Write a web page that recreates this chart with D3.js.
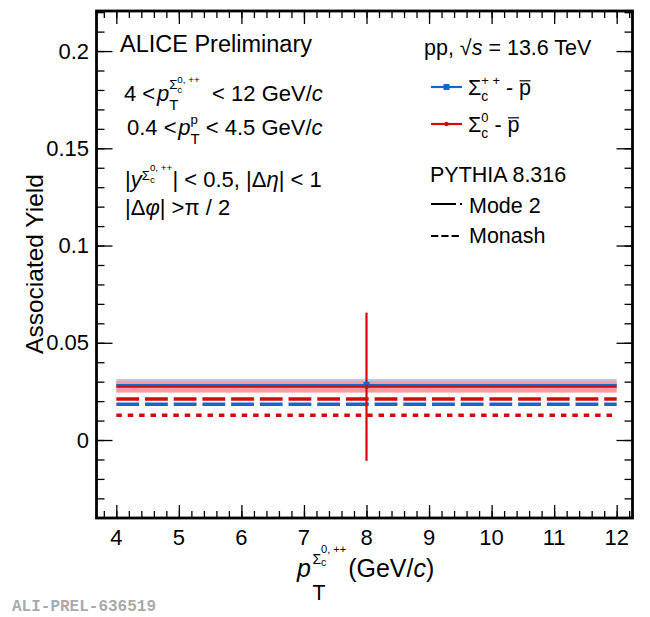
<!DOCTYPE html>
<html><head><meta charset="utf-8">
<script src="https://cdn.jsdelivr.net/npm/d3@7"></script>
<style>
body{margin:0;background:#fff}
text{font-family:"Liberation Sans",Arial,Helvetica,sans-serif;white-space:pre;fill:#000}
</style>
</head><body><svg id="c" width="650" height="617"></svg>
<script>
// ---- data ----
const binLow = [4], binHigh = [12], binCenter = [8];
const sigPPval = [0.0283], sigPPsys = [0.0031];           // Sigma_c^{++} - pbar
const sig0val = [0.0274], sig0stat = [0.0381], sig0sys = [0.0030]; // Sigma_c^0 - pbar
const monashRed = [0.0211], monashBlue = [0.0184];        // PYTHIA Monash
const mode2Red = [0.0127];                                // PYTHIA Mode 2
const xTicks = [4,5,6,7,8,9,10,11,12];
const xTickLabels = ["4","5","6","7","8","9","10","11","12"];
const yTicks = [0,0.05,0.1,0.15,0.2];
const yTickLabels = ["0","0.05","0.1","0.15","0.2"];

const BLUE = "#1468cc", BLUE_BAND = "#aecdf2", RED = "#d10a0a", RED_BAND = "#ff9a9a";

const svg = d3.select("#c");
const L = 96.5, R = 632.5, T = 11, B = 518;
const x = d3.scaleLinear().domain([3.683, 12.253]).range([L, R]);
const y = d3.scaleLinear().domain([-0.0401, 0.2206]).range([B, T]);

// ---- rich text helper ----
function rich(parent, x0, y0, size, segs, anchor) {
  const g = parent.append("g");
  let cur = x0, prevStart = x0, prevEnd = x0;
  segs.forEach(s => {
    const fs = size * (s.f || 1);
    let sx = s.back ? prevStart : (s.next ? prevEnd : cur);
    sx += (s.dx || 0) * size;
    const by = y0 - (s.dy || 0) * size;
    const t = g.append("text").attr("x", sx).attr("y", by)
      .attr("font-size", fs).text(s.t);
    if (s.i) t.attr("font-style", "italic");
    const w = t.node().getComputedTextLength();
    if (s.ol) {
      g.append("line").attr("x1", sx + 0.5).attr("x2", sx + w - 0.5)
        .attr("y1", by - fs * 0.66).attr("y2", by - fs * 0.66)
        .attr("stroke", "#000").attr("stroke-width", 1.2);
    }
    prevStart = sx; prevEnd = sx + w;
    cur = Math.max(cur, sx + w);
  });
  if (anchor === "middle") g.attr("transform", `translate(${-(cur - x0) / 2},0)`);
  return g;
}

// ---- data marks ----
const plot = svg.append("g");
const idx = d3.range(binCenter.length);
// systematic bands
plot.selectAll(".bb").data(idx).join("rect")
  .attr("x", i => x(binLow[i])).attr("width", i => x(binHigh[i]) - x(binLow[i]))
  .attr("y", i => y(sigPPval[i] + sigPPsys[i])).attr("height", i => y(sigPPval[i] - sigPPsys[i]) - y(sigPPval[i] + sigPPsys[i]))
  .attr("fill", BLUE_BAND);
plot.selectAll(".rb").data(idx).join("rect")
  .attr("x", i => x(binLow[i])).attr("width", i => x(binHigh[i]) - x(binLow[i]))
  .attr("y", i => y(sig0val[i] + sig0sys[i])).attr("height", i => y(sig0val[i] - sig0sys[i]) - y(sig0val[i] + sig0sys[i]))
  .attr("fill", RED_BAND);
// model lines
function hline(vals, color, w, dash) {
  plot.selectAll(null).data(idx).join("line")
    .attr("x1", i => x(binLow[i])).attr("x2", i => x(binHigh[i]))
    .attr("y1", i => y(vals[i])).attr("y2", i => y(vals[i]))
    .attr("stroke", color).attr("stroke-width", w).attr("stroke-dasharray", dash || null);
}
hline(monashRed, RED, 3.4, "22.8,5.9");
hline(monashBlue, BLUE, 3.4, "22.8,5.9");
hline(mode2Red, RED, 3.6, "5.5,5.9");
// data x-error (bin width) lines
hline(sigPPval, BLUE, 2.2);
hline(sig0val, RED, 2.2);
// stat error red
plot.selectAll(".re").data(idx).join("line")
  .attr("x1", i => x(binCenter[i])).attr("x2", i => x(binCenter[i]))
  .attr("y1", i => y(sig0val[i] + sig0stat[i])).attr("y2", i => y(sig0val[i] - sig0stat[i]))
  .attr("stroke", RED).attr("stroke-width", 2.2);
// markers
plot.selectAll(".bm").data(idx).join("rect")
  .attr("x", i => x(binCenter[i]) - 3).attr("y", i => y(sigPPval[i]) - 3)
  .attr("width", 6).attr("height", 6).attr("fill", BLUE);
plot.selectAll(".rm").data(idx).join("circle")
  .attr("cx", i => x(binCenter[i])).attr("cy", i => y(sig0val[i])).attr("r", 2.2).attr("fill", RED);

// ---- axes ----
const xMinor = d3.range(38, 123, 2).map(v => v / 10).filter(v => v >= 3.7 && v <= 12.25);
const yMinor = d3.range(-4, 23, 1).map(v => v / 100).filter(v => v >= -0.04 && v <= 0.22);
function tickAxis(axisFn, scale, vals, size, tr) {
  const g = svg.append("g").attr("transform", tr)
    .call(axisFn(scale).tickValues(vals).tickSize(size).tickFormat(""));
  g.select(".domain").remove();
  g.selectAll("line").attr("stroke", "#000").attr("stroke-width", 1.3);
}
tickAxis(d3.axisBottom, x, xTicks, -13, `translate(0,${B})`);
tickAxis(d3.axisBottom, x, xMinor, -7, `translate(0,${B})`);
tickAxis(d3.axisTop, x, xTicks, -13, `translate(0,${T})`);
tickAxis(d3.axisTop, x, xMinor, -7, `translate(0,${T})`);
tickAxis(d3.axisLeft, y, yTicks, -16, `translate(${L},0)`);
tickAxis(d3.axisLeft, y, yMinor, -8, `translate(${L},0)`);
tickAxis(d3.axisRight, y, yTicks, -16, `translate(${R},0)`);
tickAxis(d3.axisRight, y, yMinor, -8, `translate(${R},0)`);

svg.append("rect").attr("x", L).attr("y", T).attr("width", R - L).attr("height", B - T)
  .attr("fill", "none").attr("stroke", "#000").attr("stroke-width", 2.8);

// tick labels
svg.selectAll(".xl").data(xTicks).join("text")
  .attr("x", d => x(d)).attr("y", 545).attr("text-anchor", "middle").attr("font-size", 22)
  .text((d, i) => xTickLabels[i]);
svg.selectAll(".yl").data(yTicks).join("text")
  .attr("x", 89).attr("y", d => y(d) + 7.5).attr("text-anchor", "end").attr("font-size", 22)
  .text((d, i) => yTickLabels[i]);

// axis titles
svg.append("text").attr("transform", "translate(43,264) rotate(-90)")
  .attr("text-anchor", "middle").attr("font-size", 24.5).text("Associated Yield");
rich(svg, 297, 577, 25, [
  {t: "p", i: 1},
  {t: "T", f: .85, dy: -.92, next: 1, dx: .06},
  {t: "Σ", f: .56, dy: .52, back: 1},
  {t: "c", f: .42, dy: .44, next: 1},
  {t: "0, ++", f: .44, dy: .96, back: 1},
  {t: "(GeV/", dx: .08},
  {t: "c", i: 1},
  {t: ")"}
]);

// ---- annotations ----
svg.append("text").attr("x", 120).attr("y", 52).attr("font-size", 23.5).text("ALICE Preliminary");
rich(svg, 124, 101, 22, [
  {t: "4 <"},
  {t: "p", i: 1, dx: .08},
  {t: "T", f: .68, dy: -.4, next: 1},
  {t: "Σ", f: .6, dy: .53, back: 1},
  {t: "c", f: .45, dy: .38, next: 1},
  {t: "0, ++", f: .45, dy: .82, back: 1},
  {t: "  < 12 GeV/"},
  {t: "c", i: 1}
]);
rich(svg, 127, 135, 22, [
  {t: "0.4 <"},
  {t: "p", i: 1, dx: .08},
  {t: "T", f: .68, dy: -.4, next: 1},
  {t: "p", f: .6, dy: .5, back: 1},
  {t: " < 4.5 GeV/"},
  {t: "c", i: 1}
]);
rich(svg, 125, 187, 22, [
  {t: "|"},
  {t: "y", i: 1},
  {t: "Σ", f: .6, dy: .33, next: 1},
  {t: "c", f: .45, dy: .2, next: 1},
  {t: "0, ++", f: .45, dy: .74, back: 1},
  {t: "| < 0.5, |Δ"},
  {t: "η", i: 1},
  {t: "| < 1"}
]);
rich(svg, 125, 215, 22, [
  {t: "|Δ"},
  {t: "φ", i: 1},
  {t: "| >π / 2"}
]);

rich(svg, 424, 55, 21.5, [
  {t: "pp, √"},
  {t: "s", i: 1},
  {t: " = 13.6 TeV"}
]);

// legend
const lg = svg.append("g");
lg.append("line").attr("x1", 431).attr("x2", 462).attr("y1", 87).attr("y2", 87).attr("stroke", BLUE).attr("stroke-width", 2.2);
lg.append("rect").attr("x", 443.5).attr("y", 84).attr("width", 6).attr("height", 6).attr("fill", BLUE);
lg.append("line").attr("x1", 431).attr("x2", 462).attr("y1", 124).attr("y2", 124).attr("stroke", RED).attr("stroke-width", 2.2);
lg.append("circle").attr("cx", 446.5).attr("cy", 124).attr("r", 2.2).attr("fill", RED);
rich(svg, 468, 95, 21.5, [
  {t: "Σ"},
  {t: "c", f: .65, dy: -.3, next: 1},
  {t: "+ +", f: .6, dy: .45, back: 1},
  {t: " - "},
  {t: "p", ol: 1}
]);
rich(svg, 468, 132, 21.5, [
  {t: "Σ"},
  {t: "c", f: .65, dy: -.3, next: 1},
  {t: "0", f: .6, dy: .45, back: 1},
  {t: " - "},
  {t: "p", ol: 1}
]);
svg.append("text").attr("x", 430).attr("y", 182).attr("font-size", 21.5).text("PYTHIA 8.316");
lg.append("line").attr("x1", 431).attr("x2", 462).attr("y1", 204).attr("y2", 204)
  .attr("stroke", "#000").attr("stroke-width", 2).attr("stroke-dasharray", "25,4,2,3");
svg.append("text").attr("x", 469).attr("y", 213).attr("font-size", 21.5).text("Mode 2");
lg.append("line").attr("x1", 431).attr("x2", 460).attr("y1", 236).attr("y2", 236)
  .attr("stroke", "#000").attr("stroke-width", 2).attr("stroke-dasharray", "7.3,3");
svg.append("text").attr("x", 469).attr("y", 243).attr("font-size", 21.5).text("Monash");

svg.append("text").attr("x", 12).attr("y", 611).attr("font-size", 16)
  .attr("font-weight", "bold").style("font-family", "'Liberation Mono','DejaVu Sans Mono',monospace")
  .style("fill", "#aaaaaa").text("ALI-PREL-636519");
</script></body></html>
